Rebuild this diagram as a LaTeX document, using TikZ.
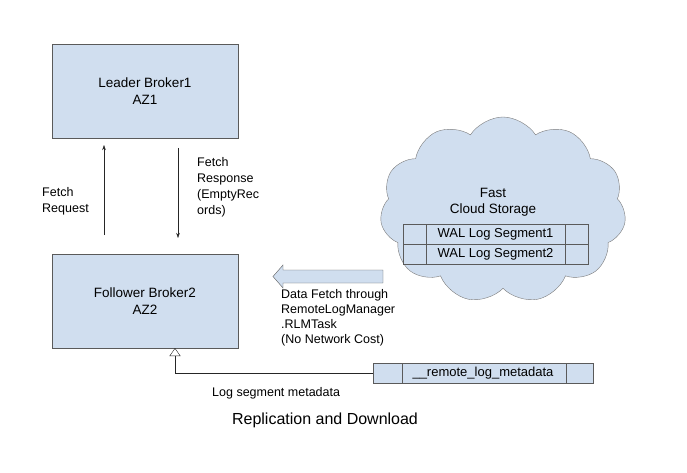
\documentclass[tikz,border=0pt]{standalone}
\usepackage{fontspec}
\setmainfont{Liberation Sans}
\usetikzlibrary{arrows.meta,shapes.symbols}
\definecolor{boxblue}{HTML}{D0DEEF}
\definecolor{edgegray}{HTML}{5A5A5A}
\begin{document}
\begin{tikzpicture}[x=1pt, y=-1pt, every node/.style={font=\fontsize{12.5}{16}\selectfont}]
  \tikzstyle{broker}=[draw=edgegray,fill=boxblue,minimum width=186pt,minimum height=94pt,align=center,inner sep=0pt,outer sep=0pt,font=\fontsize{13.5}{17}\selectfont]
  \tikzstyle{segrow}=[draw=edgegray,fill=boxblue,minimum width=185pt,minimum height=20pt,inner sep=0pt,outer sep=0pt,font=\fontsize{13}{16}\selectfont]
  \tikzstyle{label}=[align=left,anchor=west,inner sep=0pt]
  \tikzstyle{msg}=[-{Stealth[length=5pt,width=3.5pt]},black!85]
  \useasboundingbox (0,0) rectangle (687,473);
  \node[broker] (leader) at (145,91) {Leader Broker1\\AZ1};
  \node[broker] (follower) at (145,301) {Follower Broker2\\AZ2};
  \node[cloud,cloud puffs=11,cloud puff arc=115,aspect=1.35,draw=edgegray!80,fill=boxblue,minimum width=246pt,minimum height=186pt,inner sep=0pt] (storage) at (503,210) {};
  \node[align=center,font=\fontsize{13.5}{16}\selectfont] (storagetxt) at (493,202) {Fast\\Cloud Storage};
  \node[segrow] (seg1) at (495.5,234) {WAL Log Segment1};
  \node[segrow] (seg2) at (495.5,254) {WAL Log Segment2};
  \draw[edgegray] ([xshift=23pt]seg1.north west) -- ([xshift=23pt]seg2.south west);
  \draw[edgegray] ([xshift=-23pt]seg1.north east) -- ([xshift=-23pt]seg2.south east);
  \node[segrow,minimum width=220pt] (meta) at (483,373) {\_\_remote\_log\_metadata};
  \draw[edgegray] ([xshift=29pt]meta.north west) -- ([xshift=29pt]meta.south west);
  \draw[edgegray] ([xshift=-27pt]meta.north east) -- ([xshift=-27pt]meta.south east);
  \draw[msg] ([xshift=-41pt,yshift=19pt]follower.north) -- ([xshift=-41pt,yshift=-7pt]leader.south);
  \draw[msg] ([xshift=33pt,yshift=-10pt]leader.south) -- ([xshift=33pt,yshift=16pt]follower.north);
  \node[label] (reqtxt) at (42,201) {Fetch\\Request};
  \node[label] (resptxt) at (197,187) {Fetch\\Response\\(EmptyRec\\ords)};
  \draw[edgegray,fill=boxblue] (383,270) -- (283,270) -- (283,265) -- (273,276.5) -- (283,288) -- (283,283) -- (383,283) -- cycle;
  \node[label,font=\fontsize{12.5}{15}\selectfont] (fetchtxt) at (281,318) {Data Fetch through\\RemoteLogManager\\.RLMTask\\(No Network Cost)};
  \draw[black!85,-{Triangle[open,length=8pt,width=11pt]}] (meta.west) -| ([xshift=30pt]follower.south);
  \node[label] (metatxt) at (212,393) {Log segment metadata};
  \node[font=\fontsize{16}{19}\selectfont] (title) at (325,420) {Replication and Download};
\end{tikzpicture}
\end{document}
